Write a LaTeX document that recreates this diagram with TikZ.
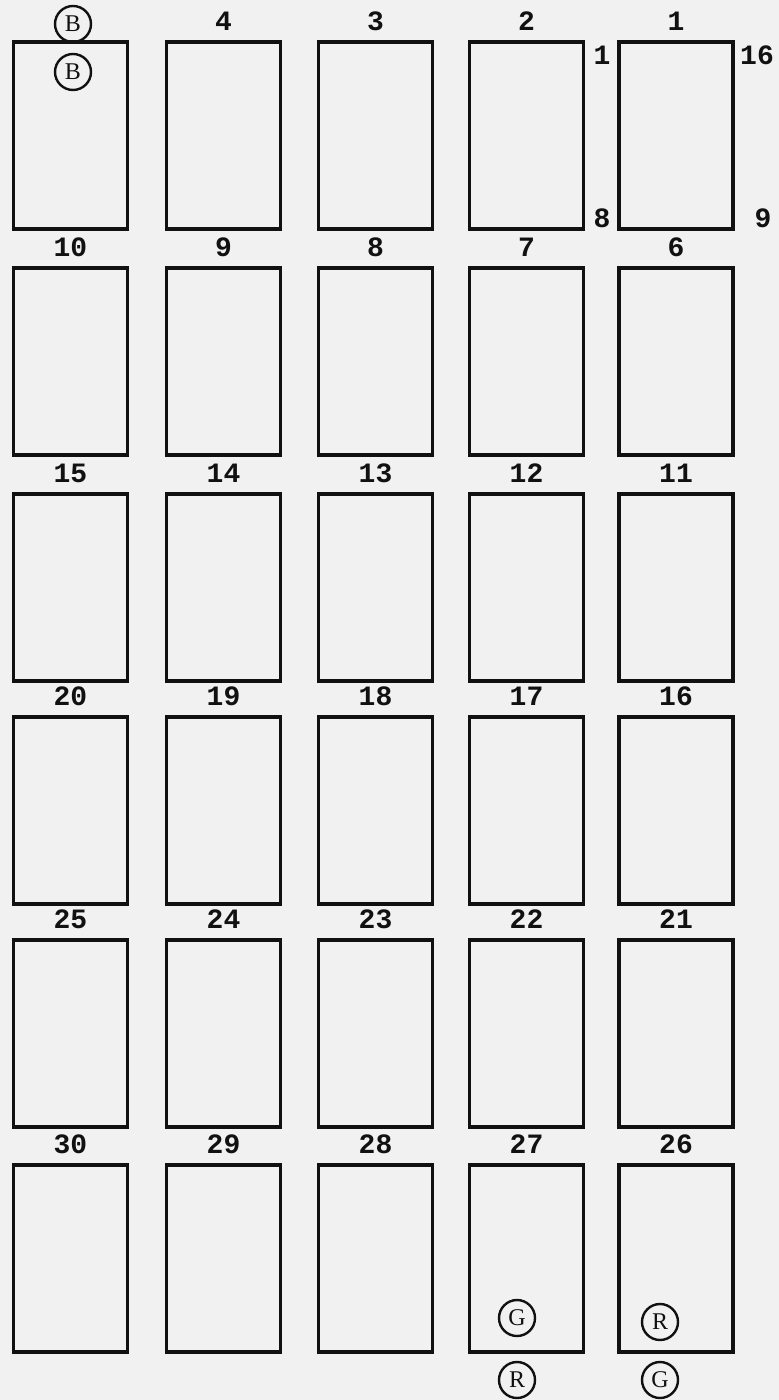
\documentclass[tikz,border=0pt]{standalone}
\usepackage{fontspec}
\newfontfamily\typefont{Liberation Mono}
\newfontfamily\tagfont{Liberation Serif}
\usetikzlibrary{positioning}
\definecolor{paper}{HTML}{F1F1F1}
\definecolor{ink}{HTML}{111111}

\begin{document}
\begin{tikzpicture}[
  x=0.5pt, y=-0.5pt,
  line width=1.7pt,
  cell/.style={rectangle, draw=ink, minimum width=57pt, minimum height=93.5pt, inner sep=0pt},
  numlabel/.style={font=\typefont\bfseries\fontsize{14}{16}\selectfont, text=ink, inner sep=0pt, label distance=4pt},
  pinlabel/.style={font=\typefont\bfseries\fontsize{14}{16}\selectfont, text=ink, inner sep=0pt},
  tag/.style={circle, draw=ink, line width=1.2pt, minimum size=18pt, inner sep=0pt, font=\tagfont\fontsize{12}{13}\selectfont, text=ink}
]
  \fill[paper] (0,0) rectangle (779,1400);
  \useasboundingbox (0,0) rectangle (779,1400);

  % row 1
  \node[cell] (c5) at (70.5,135.5) {};
  \node[cell, label={[numlabel]above:4}] (c4) at (223.5,135.5) {};
  \node[cell, label={[numlabel]above:3}] (c3) at (375.5,135.5) {};
  \node[cell, label={[numlabel]above:2}] (c2) at (526.5,135.5) {};
  \node[cell, label={[numlabel]above:1}] (c1) at (676,135.5) {};

  % row 2
  \node[cell, label={[numlabel]above:10}] (c10) at (70.5,361.5) {};
  \node[cell, label={[numlabel]above:9}] (c9) at (223.5,361.5) {};
  \node[cell, label={[numlabel]above:8}] (c8) at (375.5,361.5) {};
  \node[cell, label={[numlabel]above:7}] (c7) at (526.5,361.5) {};
  \node[cell, label={[numlabel]above:6}] (c6) at (676,361.5) {};

  % row 3
  \node[cell, label={[numlabel]above:15}] (c15) at (70.5,587.5) {};
  \node[cell, label={[numlabel]above:14}] (c14) at (223.5,587.5) {};
  \node[cell, label={[numlabel]above:13}] (c13) at (375.5,587.5) {};
  \node[cell, label={[numlabel]above:12}] (c12) at (526.5,587.5) {};
  \node[cell, label={[numlabel]above:11}] (c11) at (676,587.5) {};

  % row 4
  \node[cell, label={[numlabel]above:20}] (c20) at (70.5,810.5) {};
  \node[cell, label={[numlabel]above:19}] (c19) at (223.5,810.5) {};
  \node[cell, label={[numlabel]above:18}] (c18) at (375.5,810.5) {};
  \node[cell, label={[numlabel]above:17}] (c17) at (526.5,810.5) {};
  \node[cell, label={[numlabel]above:16}] (c16) at (676,810.5) {};

  % row 5
  \node[cell, label={[numlabel]above:25}] (c25) at (70.5,1033.5) {};
  \node[cell, label={[numlabel]above:24}] (c24) at (223.5,1033.5) {};
  \node[cell, label={[numlabel]above:23}] (c23) at (375.5,1033.5) {};
  \node[cell, label={[numlabel]above:22}] (c22) at (526.5,1033.5) {};
  \node[cell, label={[numlabel]above:21}] (c21) at (676,1033.5) {};

  % row 6
  \node[cell, label={[numlabel]above:30}] (c30) at (70.5,1258.5) {};
  \node[cell, label={[numlabel]above:29}] (c29) at (223.5,1258.5) {};
  \node[cell, label={[numlabel]above:28}] (c28) at (375.5,1258.5) {};
  \node[cell, label={[numlabel]above:27}] (c27) at (526.5,1258.5) {};
  \node[cell, label={[numlabel]above:26}] (c26) at (676,1258.5) {};

  % pin numbers
  \node[pinlabel] (p1) at (602,55) {1};
  \node[pinlabel] (p8) at (602,218) {8};
  \node[pinlabel] (p16) at (757,55) {16};
  \node[pinlabel] (p9) at (763,218) {9};

  % colour tags
  \node[tag] (btop) at (73,24) {B};
  \node[tag] (bin) at (73,72) {B};
  \node[tag] (gin) at (517,1318) {G};
  \node[tag] (rout) at (517,1380) {R};
  \node[tag] (rin) at (660,1322) {R};
  \node[tag] (gout) at (660,1380) {G};
\end{tikzpicture}
\end{document}
